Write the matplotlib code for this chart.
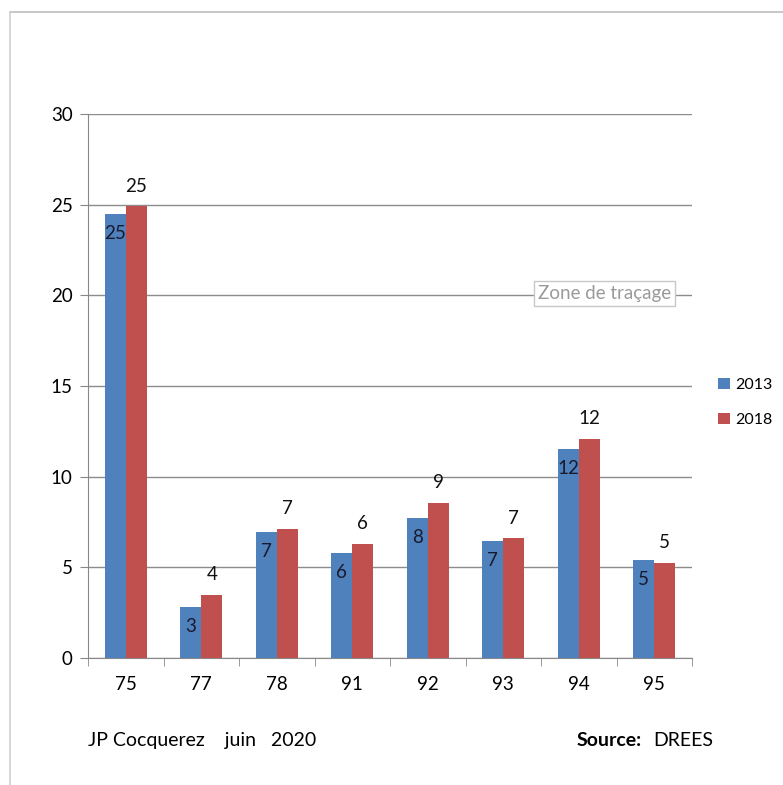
import matplotlib
matplotlib.use("Agg")
import matplotlib.pyplot as plt
import numpy as np
from matplotlib.lines import Line2D

categories = ["75", "77", "78", "91", "92", "93", "94", "95"]
v2013 = [24.5, 2.8, 6.95, 5.8, 7.7, 6.45, 11.5, 5.4]
v2018 = [24.9, 3.5, 7.1, 6.3, 8.55, 6.6, 12.1, 5.25]
lab2013 = ["25", "3", "7", "6", "8", "7", "12", "5"]
lab2018 = ["25", "4", "7", "6", "9", "7", "12", "5"]
series = ["2013", "2018"]
yticks = [0, 5, 10, 15, 20, 25, 30]

plt.rcParams['font.family'] = ['Lato', 'DejaVu Sans']

fig = plt.figure(figsize=(7.83, 7.85), dpi=100)
ax = fig.add_axes([0.1124, 0.1618, 0.8838 - 0.1124, 0.8548 - 0.1618])

blue = "#4F81BD"
red = "#C0504D"
x = np.arange(len(categories))
w = 0.28
ax.bar(x - w / 2, v2013, w, color=blue, label=series[0], zorder=3)
ax.bar(x + w / 2, v2018, w, color=red, label=series[1], zorder=3)

fs = 13.5
for xi, v, t in zip(x, v2013, lab2013):
    ax.text(xi - w / 2, v - 0.6, t, ha="center", va="top", fontsize=fs,
            color="#1a1a2e", zorder=4)
for xi, v, t in zip(x, v2018, lab2018):
    ax.text(xi + w / 2, v + 0.65, t, ha="center", va="bottom", fontsize=fs,
            color="#111111", zorder=4)

ax.set_xlim(-0.5, len(categories) - 0.5)
ax.set_ylim(0, 30)
ax.set_yticks(yticks)
ax.set_yticklabels([str(t) for t in yticks], fontsize=fs)
ax.set_xticks(x)
ax.set_xticklabels(categories, fontsize=fs)
ax.set_xticks(np.arange(-0.5, len(categories)), minor=True)
ax.tick_params(axis="x", which="major", length=0, pad=13)
ax.tick_params(axis="x", which="minor", length=6, color="#888888")
ax.tick_params(axis="y", length=6, color="#888888", pad=5)
ax.yaxis.grid(True, color="#8c8c8c", linewidth=1.0, zorder=0)
for s in ["top", "right"]:
    ax.spines[s].set_visible(False)
for s in ["left", "bottom"]:
    ax.spines[s].set_color("#888888")

ax.legend(loc="center left", bbox_to_anchor=(1.02, 0.47), frameon=False,
          fontsize=11.5, handlelength=0.7, handleheight=0.7, handletextpad=0.35,
          labelspacing=1.3)

ax.text(0.745, 0.67, "Zone de traçage", transform=ax.transAxes, fontsize=13.5,
        color="#9a9a9a", ha="left", va="center",
        bbox=dict(boxstyle="square,pad=0.2", fc="white", ec="#c8c8c8", lw=1.0),
        zorder=6)

fig.text(0.112, 0.057, "JP Cocquerez    juin   2020", fontsize=14, ha="left",
         va="center")
fig.text(0.737, 0.057, "Source:", fontsize=14, fontweight="bold", ha="left",
         va="center")
fig.text(0.834, 0.057, "DREES", fontsize=14, ha="left", va="center")

fig.add_artist(Line2D([0.013, 1.0], [0.985, 0.985], color="#bdbdbd", lw=1.2,
                      transform=fig.transFigure))
fig.add_artist(Line2D([0.013, 0.013], [0.0, 0.985], color="#cfcfcf", lw=1.2,
                      transform=fig.transFigure))

fig.savefig("out.png", dpi=100)
